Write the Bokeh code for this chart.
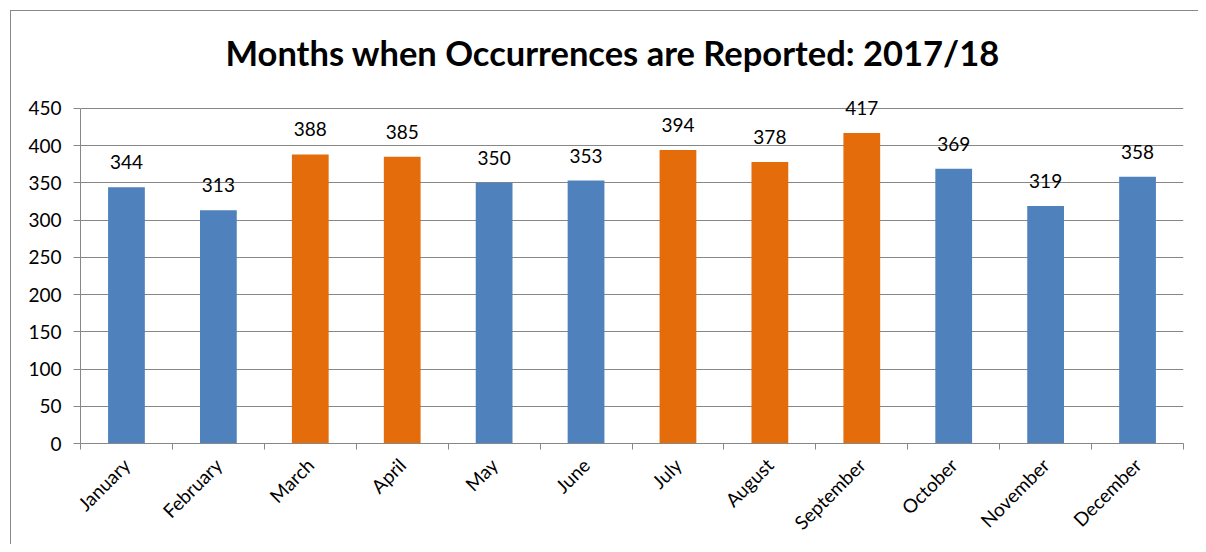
import math
from bokeh.plotting import figure
from bokeh.models import ColumnDataSource, FixedTicker, Range1d, LabelSet
from bokeh.core.properties import value
from bokeh.embed import file_html
from bokeh.resources import INLINE

months = ["January", "February", "March", "April", "May", "June", "July",
          "August", "September", "October", "November", "December"]
counts = [344, 313, 388, 385, 350, 353, 394, 378, 417, 369, 319, 358]
highlight = [False, False, True, True, False, False, True, True, True, False, False, False]
y_ticks = [0, 50, 100, 150, 200, 250, 300, 350, 400, 450]

BLUE = "#4F81BD"
ORANGE = "#E46C0A"
GRID = "#878787"
BORDER = "#898989"
FONT = "Lato"

xs = [i + 0.5 for i in range(len(months))]
src = ColumnDataSource(dict(
    x=xs, top=counts, label=[str(c) for c in counts],
    color=[ORANGE if h else BLUE for h in highlight],
))

p = figure(width=1198, height=544, output_backend="svg", toolbar_location=None,
           x_range=Range1d(0, len(months)), y_range=Range1d(0, 490),
           min_border_left=80, min_border_right=15, min_border_top=78, min_border_bottom=101)
p.styles = {
    "background": (f"linear-gradient({BORDER}, {BORDER}) 10px 10px / 1px 100% no-repeat, "
                   f"linear-gradient({BORDER}, {BORDER}) 10px 10px / 100% 1px no-repeat, white"),
}

p.title.text = "Months when Occurrences are Reported: 2017/18"
p.title.align = "left"
p.title.offset = 145
p.title.text_font = FONT
p.title.text_font_style = "bold"
p.title.text_font_size = "34.5px"
p.title.text_color = "#000000"
p.title.standoff = 12

p.vbar(x="x", top="top", width=0.4, color="color", line_color=None, source=src)

labels = LabelSet(x="x", y="top", text="label", source=src, text_align="center",
                  text_baseline="bottom", y_offset=18, text_font=value(FONT),
                  text_font_size=value("19px"), text_color="#000000")
p.add_layout(labels)

p.outline_line_color = None
p.background_fill_color = "white"
p.border_fill_color = None

p.xgrid.grid_line_color = None
p.ygrid.grid_line_color = GRID
p.ygrid.grid_line_width = 1
p.ygrid.ticker = FixedTicker(ticks=y_ticks)

yax = p.yaxis[0]
yax.ticker = FixedTicker(ticks=y_ticks)
yax.bounds = (0, 450)
yax.axis_line_color = GRID
yax.major_tick_line_color = GRID
yax.major_tick_out = 7
yax.major_tick_in = 0
yax.minor_tick_line_color = None
yax.major_label_text_font = FONT
yax.major_label_text_font_size = "19px"
yax.major_label_text_color = "#000000"
yax.major_label_standoff = 12

xax = p.xaxis[0]
xax.ticker = FixedTicker(ticks=xs, minor_ticks=list(range(len(months) + 1)))
xax.major_label_overrides = {x: m for x, m in zip(xs, months)}
xax.axis_line_color = GRID
xax.major_tick_line_color = None
xax.minor_tick_line_color = GRID
xax.minor_tick_out = 6
xax.minor_tick_in = 0
xax.major_label_orientation = math.pi / 4
xax.major_label_text_font = FONT
xax.major_label_text_font_size = "19px"
xax.major_label_text_color = "#000000"
xax.major_label_standoff = 12

open("out.html", "w").write(file_html(p, INLINE))
